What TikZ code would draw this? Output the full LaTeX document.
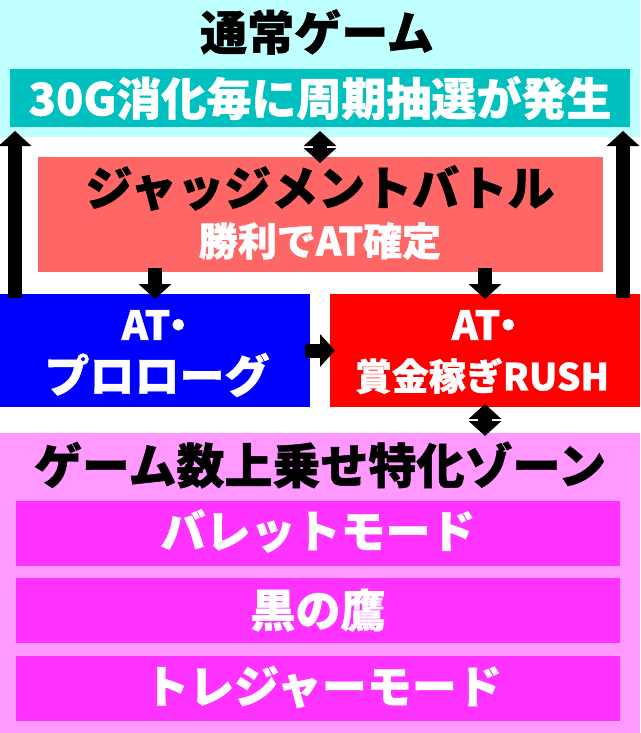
\documentclass[tikz,border=0pt]{standalone}
\usepackage{fontspec}
\setmainfont{Noto Sans CJK JP}[BoldFeatures={FakeBold=1}]
\usetikzlibrary{positioning,calc,arrows.meta}

\definecolor{topbg}{RGB}{192,255,255}
\definecolor{cycbox}{RGB}{0,192,192}
\definecolor{judbox}{RGB}{255,102,102}
\definecolor{probox}{RGB}{0,0,255}
\definecolor{rushbox}{RGB}{255,0,0}
\definecolor{zonebg}{RGB}{255,153,255}
\definecolor{modebox}{RGB}{255,51,255}

\tikzset{
	box/.style={inner sep=0pt,outer sep=0pt},
	ttl/.style={font=\bfseries\fontsize{47}{50}\selectfont,text=black,inner sep=0pt},
	wt/.style={font=\bfseries\fontsize{45}{50}\selectfont,text=white,inner sep=0pt},
	blk/.style={line width=14pt,>={Triangle[width=32pt,length=15pt]}}
}

\begin{document}
\begin{tikzpicture}[x=1pt,y=-1pt]
									\fill[white] (0,0) rectangle (640,733);
									\useasboundingbox (0,0) rectangle (640,733);

									% normal game
									\node[box,fill=topbg,minimum width=640pt,minimum height=137pt] (top) at (320,68.5) {};
									\node[ttl] (topT) at (317,32) {通常ゲーム};
									\node[box,fill=cycbox,minimum width=620pt,minimum height=58pt] (cyc) at (320,98) {};
									\node[wt,font=\bfseries\fontsize{45}{50}\selectfont] (cycT) at (320,98) {30G消化毎に周期抽選が発生};

									% judgement battle
									\node[box,fill=judbox,minimum width=565pt,minimum height=115pt] (jud) at (320.5,214.5) {};
									\node[ttl] (judA) at (320,188) {ジャッジメントバトル};
									\node[wt,font=\bfseries\fontsize{39}{50}\selectfont] (judB) at (320,241) {勝利でAT確定};

									% AT
									\node[box,fill=probox,minimum width=310pt,minimum height=113pt] (pro) at (155,350.5) {};
									\node[wt,font=\bfseries\fontsize{40}{50}\selectfont] (proA) at (154,325) {AT\kern-.3em・\kern-.3em};
									\node[wt] (proB) at (157,375) {プロローグ};
									\node[box,fill=rushbox,minimum width=310pt,minimum height=113pt] (rush) at (485,350.5) {};
									\node[wt,font=\bfseries\fontsize{40}{50}\selectfont] (rushA) at (484,325) {AT\kern-.3em・\kern-.3em};
									\node[wt,font=\bfseries\fontsize{37}{50}\selectfont] (rushB) at (482,376) {賞金稼ぎRUSH};

									% zone
									\node[box,fill=zonebg,minimum width=640pt,minimum height=300pt] (zone) at (320,583) {};
									\node[ttl,font=\bfseries\fontsize{48}{50}\selectfont] (zoneT) at (320,465) {ゲーム数上乗せ特化ゾーン};
									\foreach \m [count=\n] in {バレットモード,黒の鷹,トレジャーモード}
										\node[box,fill=modebox,minimum width=604pt,minimum height=65pt] (M\n) at (318,{533+77.5*(\n-1)}) {};
									\node[wt] (M1T) at (318,531) {バレットモード};
									\node[wt] (M2T) at (318,610) {黒の鷹};
									\node[wt] (M3T) at (323,687) {トレジャーモード};

									% arrows
									\draw[blk,->] ($(pro.north west)+(15,4)$) -- ($(pro.north west |- cyc.south)+(15,4)$);
									\draw[blk,->] ($(rush.north east)+(-17,4)$) -- ($(rush.north east |- cyc.south)+(-17,4)$);
									\draw[blk,<->] ($(cyc.south)+(0,4)$) -- ($(cyc.south |- jud.north)+(0,6)$);
									\draw[blk,->] ($(jud.south -| pro.north)+(0,-4)$) -- ($(pro.north)+(0,5)$);
									\draw[blk,->] ($(jud.south -| rush.north)+(0,-4)$) -- ($(rush.north)+(0,5)$);
									\draw[blk,->] ($(pro.east)+(-5,0)$) -- ($(rush.west)+(5,0)$);
									\draw[blk,<->] ($(rush.south)+(0,-3)$) -- ($(rush.south |- zone.north)+(0,3)$);
\end{tikzpicture}
\end{document}
